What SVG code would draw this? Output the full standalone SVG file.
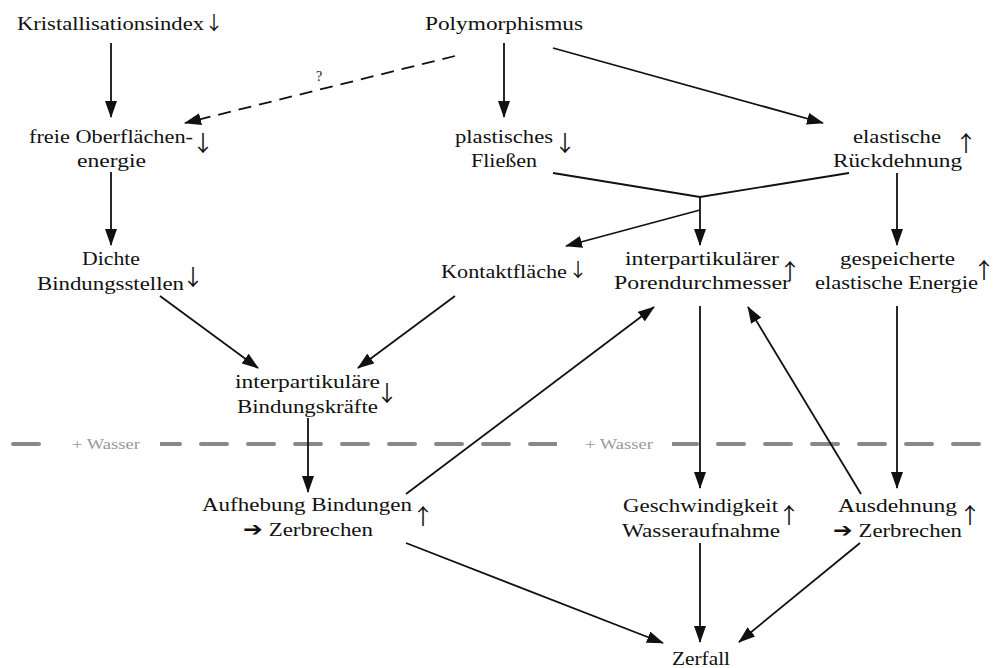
<svg xmlns="http://www.w3.org/2000/svg" width="996" height="668" viewBox="0 0 996 668">
<defs>
<marker id="ah" markerUnits="userSpaceOnUse" markerWidth="18" markerHeight="12" refX="16" refY="6" orient="auto">
<path d="M0,0 L17,6 L0,12 z" fill="#111"/>
</marker>
<style>
.t{font-family:"Liberation Serif","DejaVu Serif",serif;font-size:19.5px;fill:#111}
.ar{font-family:"Noto Sans CJK SC","DejaVu Sans",sans-serif;font-size:22px;fill:#111;text-anchor:middle}
.ars{font-family:"Noto Sans CJK SC","DejaVu Sans",sans-serif;font-size:19px;fill:#111;text-anchor:middle}
.w{font-family:"Liberation Serif","DejaVu Serif",serif;font-size:15px;fill:#999}
.q{font-family:"Liberation Serif","DejaVu Serif",serif;font-size:14px;fill:#111}
.c{stroke:#111;stroke-width:1.8;fill:none;marker-end:url(#ah)}
.l{stroke:#111;stroke-width:1.8;fill:none}
</style>
</defs>
<rect width="996" height="668" fill="#fff"/>

<g id="wasser-line">
<line x1="13" y1="444" x2="996" y2="444" stroke="#888" stroke-width="4" stroke-linecap="round" stroke-dasharray="26 21"/>
<rect x="45" y="434" width="115" height="20" fill="#fff"/>
<rect x="557" y="434" width="115" height="20" fill="#fff"/>
<text class="w" x="72" y="449" textLength="68" lengthAdjust="spacingAndGlyphs">+ Wasser</text>
<text class="w" x="585" y="449" textLength="68" lengthAdjust="spacingAndGlyphs">+ Wasser</text>
</g>

<g id="connectors">
<line class="c" x1="111" y1="43" x2="111" y2="117"/>
<line class="c" x1="455" y1="56" x2="185" y2="123" stroke-dasharray="13 8"/>
<text class="q" x="316" y="81">?</text>
<line class="c" x1="504" y1="43" x2="504" y2="117"/>
<line class="c" x1="553" y1="48" x2="823" y2="123"/>
<polyline class="l" points="553,173 700,197 849,173"/>
<line class="c" x1="700" y1="197" x2="700" y2="245"/>
<line class="c" x1="700" y1="210" x2="566" y2="246"/>
<line class="c" x1="897" y1="173" x2="897" y2="245"/>
<line class="c" x1="111" y1="172" x2="111" y2="245"/>
<line class="c" x1="160" y1="296" x2="258" y2="368"/>
<line class="c" x1="455" y1="296" x2="358" y2="368"/>
<line class="c" x1="308" y1="418" x2="308" y2="492"/>
<line class="c" x1="406" y1="494" x2="654" y2="307"/>
<line class="c" x1="700" y1="306" x2="700" y2="488"/>
<line class="c" x1="861" y1="494" x2="748" y2="307"/>
<line class="c" x1="897" y1="306" x2="897" y2="488"/>
<line class="c" x1="406" y1="543" x2="663" y2="643"/>
<line class="c" x1="700" y1="543" x2="700" y2="642"/>
<line class="c" x1="860" y1="543" x2="739" y2="642"/>
</g>

<g id="kristallisationsindex">
<text class="t" x="17" y="30" textLength="187" lengthAdjust="spacingAndGlyphs">Kristallisationsindex</text>
<text class="ars" x="214" y="30">↓</text>
</g>
<g id="polymorphismus">
<text class="t" x="425" y="30" textLength="158" lengthAdjust="spacingAndGlyphs">Polymorphismus</text>
</g>
<g id="oberflaechenenergie">
<text class="t" x="29" y="143" textLength="164" lengthAdjust="spacingAndGlyphs">freie Oberflächen-</text>
<text class="t" x="77" y="167" textLength="69" lengthAdjust="spacingAndGlyphs">energie</text>
<text class="ar" x="203" y="151">↓</text>
</g>
<g id="plastisches-fliessen">
<text class="t" x="455" y="143" textLength="98" lengthAdjust="spacingAndGlyphs">plastisches</text>
<text class="t" x="471" y="167" textLength="66" lengthAdjust="spacingAndGlyphs">Fließen</text>
<text class="ar" x="565" y="151">↓</text>
</g>
<g id="elastische-rueckdehnung">
<text class="t" x="853" y="143" textLength="88" lengthAdjust="spacingAndGlyphs">elastische</text>
<text class="t" x="833" y="167" textLength="129" lengthAdjust="spacingAndGlyphs">Rückdehnung</text>
<text class="ar" x="966" y="151">↑</text>
</g>
<g id="dichte-bindungsstellen">
<text class="t" x="82" y="265" textLength="58" lengthAdjust="spacingAndGlyphs">Dichte</text>
<text class="t" x="37" y="290" textLength="147" lengthAdjust="spacingAndGlyphs">Bindungsstellen</text>
<text class="ar" x="193" y="285">↓</text>
</g>
<g id="kontaktflaeche">
<text class="t" x="441" y="278" textLength="126" lengthAdjust="spacingAndGlyphs">Kontaktfläche</text>
<text class="ars" x="578" y="277">↓</text>
</g>
<g id="porendurchmesser">
<text class="t" x="625" y="265" textLength="154" lengthAdjust="spacingAndGlyphs">interpartikulärer</text>
<text class="t" x="614" y="289" textLength="176" lengthAdjust="spacingAndGlyphs">Porendurchmesser</text>
<text class="ar" x="790" y="279">↑</text>
</g>
<g id="gespeicherte-energie">
<text class="t" x="840" y="265" textLength="115" lengthAdjust="spacingAndGlyphs">gespeicherte</text>
<text class="t" x="815" y="289" textLength="163" lengthAdjust="spacingAndGlyphs">elastische Energie</text>
<text class="ar" x="984" y="278">↑</text>
</g>
<g id="bindungskraefte">
<text class="t" x="235" y="388" textLength="145" lengthAdjust="spacingAndGlyphs">interpartikuläre</text>
<text class="t" x="237" y="413" textLength="141" lengthAdjust="spacingAndGlyphs">Bindungskräfte</text>
<text class="ar" x="387" y="401">↓</text>
</g>
<g id="aufhebung">
<text class="t" x="202" y="511" textLength="210" lengthAdjust="spacingAndGlyphs">Aufhebung Bindungen</text>
<text class="t" x="243" y="536" textLength="130" lengthAdjust="spacingAndGlyphs">➔ Zerbrechen</text>
<text class="ar" x="423" y="524">↑</text>
</g>
<g id="geschwindigkeit">
<text class="t" x="623" y="512" textLength="155" lengthAdjust="spacingAndGlyphs">Geschwindigkeit</text>
<text class="t" x="622" y="537" textLength="158" lengthAdjust="spacingAndGlyphs">Wasseraufnahme</text>
<text class="ar" x="789" y="523">↑</text>
</g>
<g id="ausdehnung">
<text class="t" x="838" y="512" textLength="119" lengthAdjust="spacingAndGlyphs">Ausdehnung</text>
<text class="t" x="833" y="537" textLength="129" lengthAdjust="spacingAndGlyphs">➔ Zerbrechen</text>
<text class="ar" x="970" y="523">↑</text>
</g>
<g id="zerfall">
<text class="t" x="672" y="665" textLength="58" lengthAdjust="spacingAndGlyphs">Zerfall</text>
</g>
</svg>
